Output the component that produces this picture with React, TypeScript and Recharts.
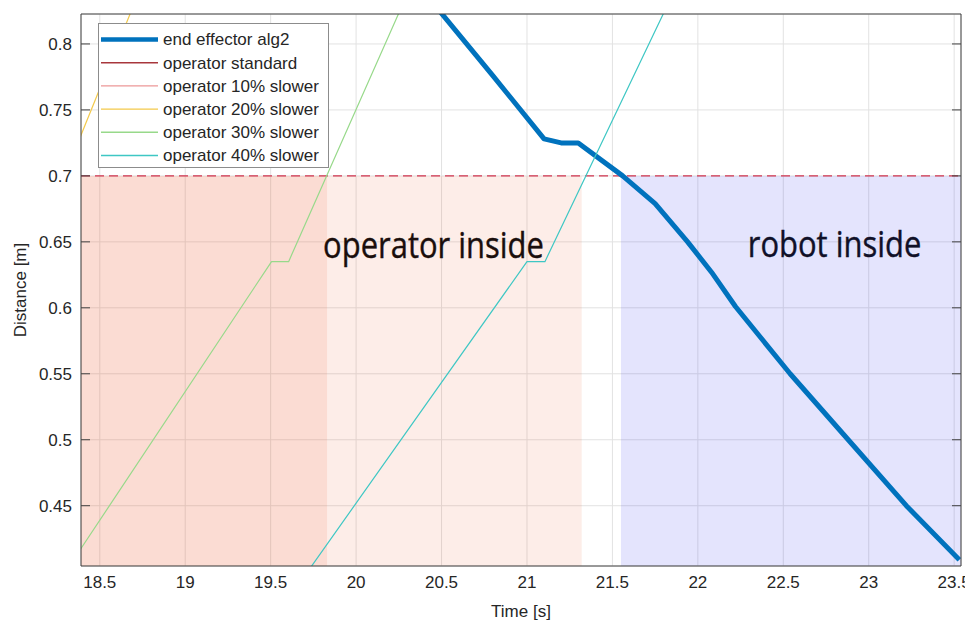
import React from 'react';
import {
  ComposedChart,
  Line,
  XAxis,
  YAxis,
  CartesianGrid,
  ReferenceArea,
  ReferenceLine,
  ReferenceDot,
  Legend,
} from 'recharts';

// Axis ranges: time in seconds, distance in metres
const timeRange: [number, number] = [18.39, 23.54];
const distanceRange: [number, number] = [0.4043, 0.8227];
const timeTicks = [18.5, 19, 19.5, 20, 20.5, 21, 21.5, 22, 22.5, 23, 23.5];
const distanceTicks = [0.45, 0.5, 0.55, 0.6, 0.65, 0.7, 0.75, 0.8];

// End effector distance, algorithm 2
const effectorTime = [20.45, 20.8, 21.1, 21.2, 21.3, 21.56, 21.75, 21.94, 22.08, 22.22, 22.54, 22.88, 23.22, 23.53];
const effectorDistance = [0.831, 0.776, 0.728, 0.725, 0.725, 0.7, 0.679, 0.65, 0.627, 0.601, 0.55, 0.5, 0.45, 0.409];

// Operator approach profiles (only the visible stretch of each)
const op20Time = [18.09, 18.75];
const op20Distance = [0.635, 0.846];
const op30Time = [18.3, 19.505, 19.605, 20.3];
const op30Distance = [0.4, 0.635, 0.635, 0.838];
const op40Time = [19.7, 21.0, 21.105, 21.85];
const op40Distance = [0.397, 0.635, 0.635, 0.837];

// Protective separation distance
const safetyDistance = 0.7;

// Shaded intervals [start, end] in seconds
const operatorInsideSpans: [number, number][] = [
  [18.39, 21.32],
  [18.39, 19.83],
];
const robotInsideSpan: [number, number] = [21.55, 23.54];

// Zone captions
const captionText = ['operator inside', 'robot inside'];
const captionTime = [20.453, 22.8];
const captionDistance = [0.638, 0.6387];

const FONT = '"Liberation Sans", Arial, Helvetica, sans-serif';
const TEXT = '#262626';
const FRAME = '#404040';

const toPoints = (t: number[], d: number[]) => t.map((time, i) => ({ time, distance: d[i] }));

type Series = { name: string; color: string; width: number; legendWidth: number; points: { time: number; distance: number }[] };

const SERIES: Series[] = [
  { name: 'end effector alg2', color: '#0072bd', width: 5, legendWidth: 4.5, points: toPoints(effectorTime, effectorDistance) },
  { name: 'operator standard', color: '#a8373c', width: 1.2, legendWidth: 1.4, points: [] },
  { name: 'operator 10% slower', color: '#ec9797', width: 1.2, legendWidth: 1.4, points: [] },
  { name: 'operator 20% slower', color: '#f3c94a', width: 1.2, legendWidth: 1.4, points: toPoints(op20Time, op20Distance) },
  { name: 'operator 30% slower', color: '#97d98a', width: 1.2, legendWidth: 1.4, points: toPoints(op30Time, op30Distance) },
  { name: 'operator 40% slower', color: '#3ec7c4', width: 1.2, legendWidth: 1.4, points: toPoints(op40Time, op40Distance) },
];

const CAPTION_COLORS = ['#1a0e0c', '#101028'];

function LegendBox() {
  return (
    <svg width={232} height={146} style={{ display: 'block' }}>
      <rect x={0.5} y={0.5} width={230} height={144} fill="#ffffff" stroke="#8c8c8c" strokeWidth={1} />
      {SERIES.map((s, i) => {
        const cy = 16.5 + i * 23.2;
        return (
          <g key={s.name}>
            <line x1={3} x2={60} y1={cy} y2={cy} stroke={s.color} strokeWidth={s.legendWidth} />
            <text x={65} y={cy + 5.8} fontSize={17} fill={TEXT} fontFamily={FONT}>
              {s.name}
            </text>
          </g>
        );
      })}
    </svg>
  );
}

function makeCaption(text: string, color: string) {
  return (props: any) => {
    const { cx, cy } = props;
    if (cx == null || cy == null) return <g />;
    return (
      <g transform={`translate(${cx}, ${cy}) scale(0.86, 1)`}>
        <text x={0} y={0} textAnchor="middle" fontSize={36} fill={color} stroke={color} strokeWidth={0.4} fontFamily='"Open Sans", "Noto Sans", sans-serif'>
          {text}
        </text>
      </g>
    );
  };
}

function DistanceLabel(props: any) {
  const vb = props.viewBox || { x: 0, y: 0, width: 0, height: 0 };
  const x = vb.x + 18;
  const y = vb.y + vb.height / 2;
  return (
    <text x={x} y={y} transform={`rotate(-90, ${x}, ${y})`} textAnchor="middle" fontSize={17} fill={TEXT} fontFamily={FONT}>
      Distance [m]
    </text>
  );
}

const noLabel = () => '';

export default function App() {
  return (
    <div style={{ width: 963, height: 614, fontFamily: FONT }}>
      <ComposedChart width={963} height={614} margin={{ top: 6, right: 10, bottom: 0, left: 0 }}>
        <CartesianGrid stroke="#e2e2e2" strokeWidth={1} />

        {/* labelled axes */}
        <XAxis
          xAxisId={0}
          dataKey="time"
          type="number"
          domain={timeRange}
          ticks={timeTicks}
          allowDataOverflow
          height={56}
          tickLine={false}
          axisLine={false}
          tickSize={4}
          tickMargin={6}
          tick={{ fill: TEXT, fontSize: 17, fontFamily: FONT }}
          label={{ value: 'Time [s]', position: 'insideBottom', offset: 5, fill: TEXT, fontSize: 17, fontFamily: FONT }}
        />
        <YAxis
          yAxisId={0}
          dataKey="distance"
          type="number"
          domain={distanceRange}
          ticks={distanceTicks}
          allowDataOverflow
          width={73}
          tickLine={false}
          axisLine={false}
          tickSize={4}
          tickMargin={5}
          tick={{ fill: TEXT, fontSize: 17, fontFamily: FONT }}
          label={<DistanceLabel />}
        />

        {/* box frame with inward ticks */}
        <XAxis xAxisId="frameBottom" orientation="bottom" mirror type="number" domain={timeRange} ticks={timeTicks} allowDataOverflow tickSize={9} tickFormatter={noLabel} stroke={FRAME} tickLine={{ stroke: FRAME }} axisLine={{ stroke: FRAME }} />
        <XAxis xAxisId="frameTop" orientation="top" mirror type="number" domain={timeRange} ticks={timeTicks} allowDataOverflow tickSize={9} tickFormatter={noLabel} stroke={FRAME} tickLine={{ stroke: FRAME }} axisLine={{ stroke: FRAME }} />
        <YAxis yAxisId="frameLeft" orientation="left" mirror type="number" domain={distanceRange} ticks={distanceTicks} allowDataOverflow tickSize={9} tickFormatter={noLabel} stroke={FRAME} tickLine={{ stroke: FRAME }} axisLine={{ stroke: FRAME }} />
        <YAxis yAxisId="frameRight" orientation="right" mirror type="number" domain={distanceRange} ticks={distanceTicks} allowDataOverflow tickSize={9} tickFormatter={noLabel} stroke={FRAME} tickLine={{ stroke: FRAME }} axisLine={{ stroke: FRAME }} />

        {operatorInsideSpans.map(([x1, x2], i) => (
          <ReferenceArea
            key={`op-${i}`}
            x1={x1}
            x2={x2}
            y1={distanceRange[0]}
            y2={safetyDistance}
            fill="#e8501a"
            fillOpacity={0.1}
            stroke="none"
            ifOverflow="hidden"
          />
        ))}
        <ReferenceArea
          x1={robotInsideSpan[0]}
          x2={robotInsideSpan[1]}
          y1={distanceRange[0]}
          y2={safetyDistance}
          fill="#2020f0"
          fillOpacity={0.12}
          stroke="none"
          ifOverflow="hidden"
        />

        {captionText.map((text, i) => (
          <ReferenceDot
            key={text}
            x={captionTime[i]}
            y={captionDistance[i]}
            r={0}
            ifOverflow="visible"
            shape={makeCaption(text, CAPTION_COLORS[i])}
          />
        ))}

        <ReferenceLine y={safetyDistance} stroke="#d0334d" strokeWidth={1.4} strokeDasharray="9 5" />

        {SERIES.filter((s) => s.points.length > 0).map((s) => (
          <Line
            key={s.name}
            data={s.points}
            dataKey="distance"
            name={s.name}
            type="linear"
            stroke={s.color}
            strokeWidth={s.width}
            dot={false}
            activeDot={false}
            isAnimationActive={false}
            strokeLinejoin="round"
          />
        ))}

        <Legend
          layout="vertical"
          align="center"
          verticalAlign="middle"
          content={() => <LegendBox />}
          wrapperStyle={{ left: 90, top: 15, width: 232, height: 146 }}
        />
      </ComposedChart>
    </div>
  );
}
